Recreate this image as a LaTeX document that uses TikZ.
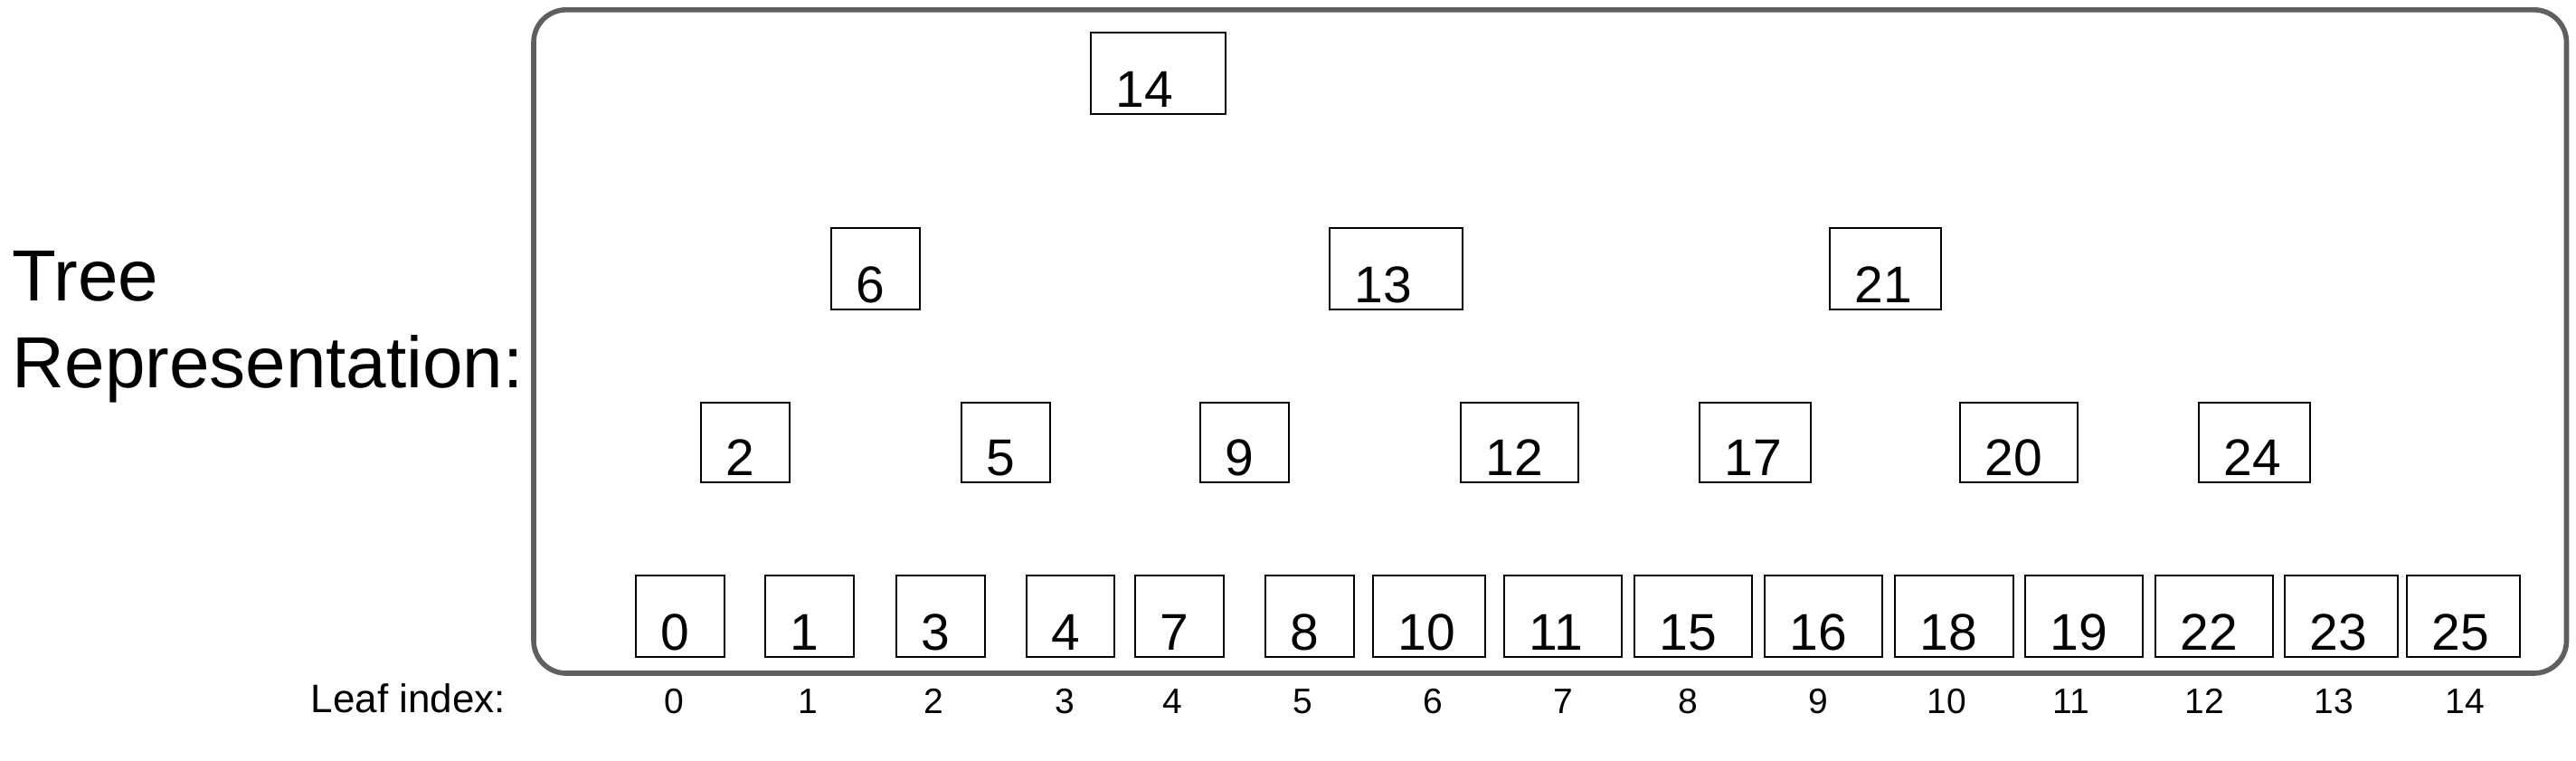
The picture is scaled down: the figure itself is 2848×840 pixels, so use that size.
\documentclass[tikz,border=0pt]{standalone}
\usepackage{fontspec}
\setmainfont{Liberation Sans}
\begin{document}
\begin{tikzpicture}[x=0.25pt,y=-0.25pt,
  bx/.style={draw=black,line width=0.7pt,rectangle,inner sep=0pt,outer sep=0pt},
  num/.style={inner sep=0pt,anchor=base west,font=\fontsize{14.25pt}{16pt}\selectfont},
  idx/.style={inner sep=0pt,anchor=base,font=\fontsize{9.75pt}{11pt}\selectfont},
  big/.style={inner sep=0pt,anchor=base west,font=\fontsize{20pt}{24pt}\selectfont},
  framebox/.style={draw=framegray,line width=1.4pt,rounded corners=9pt,rectangle,inner sep=0pt,outer sep=0pt}
]
\definecolor{framegray}{HTML}{5F5F5F}
\useasboundingbox (0,0) rectangle (2848,840);
\fill[white] (0,0) rectangle (2848,840);

\newcommand\tbox[6]{%
  \node[bx,minimum width={(#4-#2)*0.25pt},minimum height={(#5-#3)*0.25pt}]
    (b#1) at ({(#2+#4)/2},{(#3+#5)/2}) {};
  \node[num] (t#1) at ([xshift=6.75pt,yshift=2pt]b#1.south west) {#6};
}

% outer frame
\node[framebox,minimum width={(2837.5-590)*0.25pt},minimum height={(744-10.8)*0.25pt}]
  (frame) at ({(590+2837.5)/2},{(10.8+744)/2}) {};

% title
\node[big] (tree1) at (13,332) {Tree};
\node[big] (tree2) at (13,428) {Representation:};

% level 0
\tbox{n14}{1206}{36}{1355}{126}{14}
% level 1
\tbox{n6}{919}{252}{1017}{342}{6}
\tbox{n13}{1470}{252}{1617}{342}{13}
\tbox{n21}{2023}{252}{2146}{342}{21}
% level 2
\tbox{n2}{775}{445}{873}{533}{2}
\tbox{n5}{1063}{445}{1161}{533}{5}
\tbox{n9}{1327}{445}{1425}{533}{9}
\tbox{n12}{1615}{445}{1745}{533}{12}
\tbox{n17}{1879}{445}{2002}{533}{17}
\tbox{n20}{2167}{445}{2297}{533}{20}
\tbox{n24}{2431}{445}{2554}{533}{24}
% leaves
\tbox{l0}{703}{636}{801}{726}{0}
\tbox{l1}{846}{636}{944}{726}{1}
\tbox{l3}{991}{636}{1089}{726}{3}
\tbox{l4}{1135}{636}{1232}{726}{4}
\tbox{l7}{1255}{636}{1353}{726}{7}
\tbox{l8}{1399}{636}{1497}{726}{8}
\tbox{l10}{1518}{636}{1642}{726}{10}
\tbox{l11}{1663}{636}{1793}{726}{11}
\tbox{l15}{1807}{636}{1937}{726}{15}
\tbox{l16}{1951}{636}{2081}{726}{16}
\tbox{l18}{2095}{636}{2226}{726}{18}
\tbox{l19}{2239}{636}{2369}{726}{19}
\tbox{l22}{2383}{636}{2513}{726}{22}
\tbox{l23}{2526}{636}{2651}{726}{23}
\tbox{l25}{2661}{636}{2786}{726}{25}

% leaf index row
\node[inner sep=0pt,anchor=base west,font=\fontsize{11pt}{13pt}\selectfont] (leafidx) at (343,787) {Leaf index:};
\node[idx] (i0) at (745,788) {0};
\node[idx] (i1) at (893,788) {1};
\node[idx] (i2) at (1032,788) {2};
\node[idx] (i3) at (1177,788) {3};
\node[idx] (i4) at (1296,788) {4};
\node[idx] (i5) at (1440,788) {5};
\node[idx] (i6) at (1584,788) {6};
\node[idx] (i7) at (1728,788) {7};
\node[idx] (i8) at (1866,788) {8};
\node[idx] (i9) at (2010,788) {9};
\node[idx] (i10) at (2152,788) {10};
\node[idx] (i11) at (2290,788) {11};
\node[idx] (i12) at (2437,788) {12};
\node[idx] (i13) at (2580,788) {13};
\node[idx] (i14) at (2725,788) {14};
\end{tikzpicture}
\end{document}
